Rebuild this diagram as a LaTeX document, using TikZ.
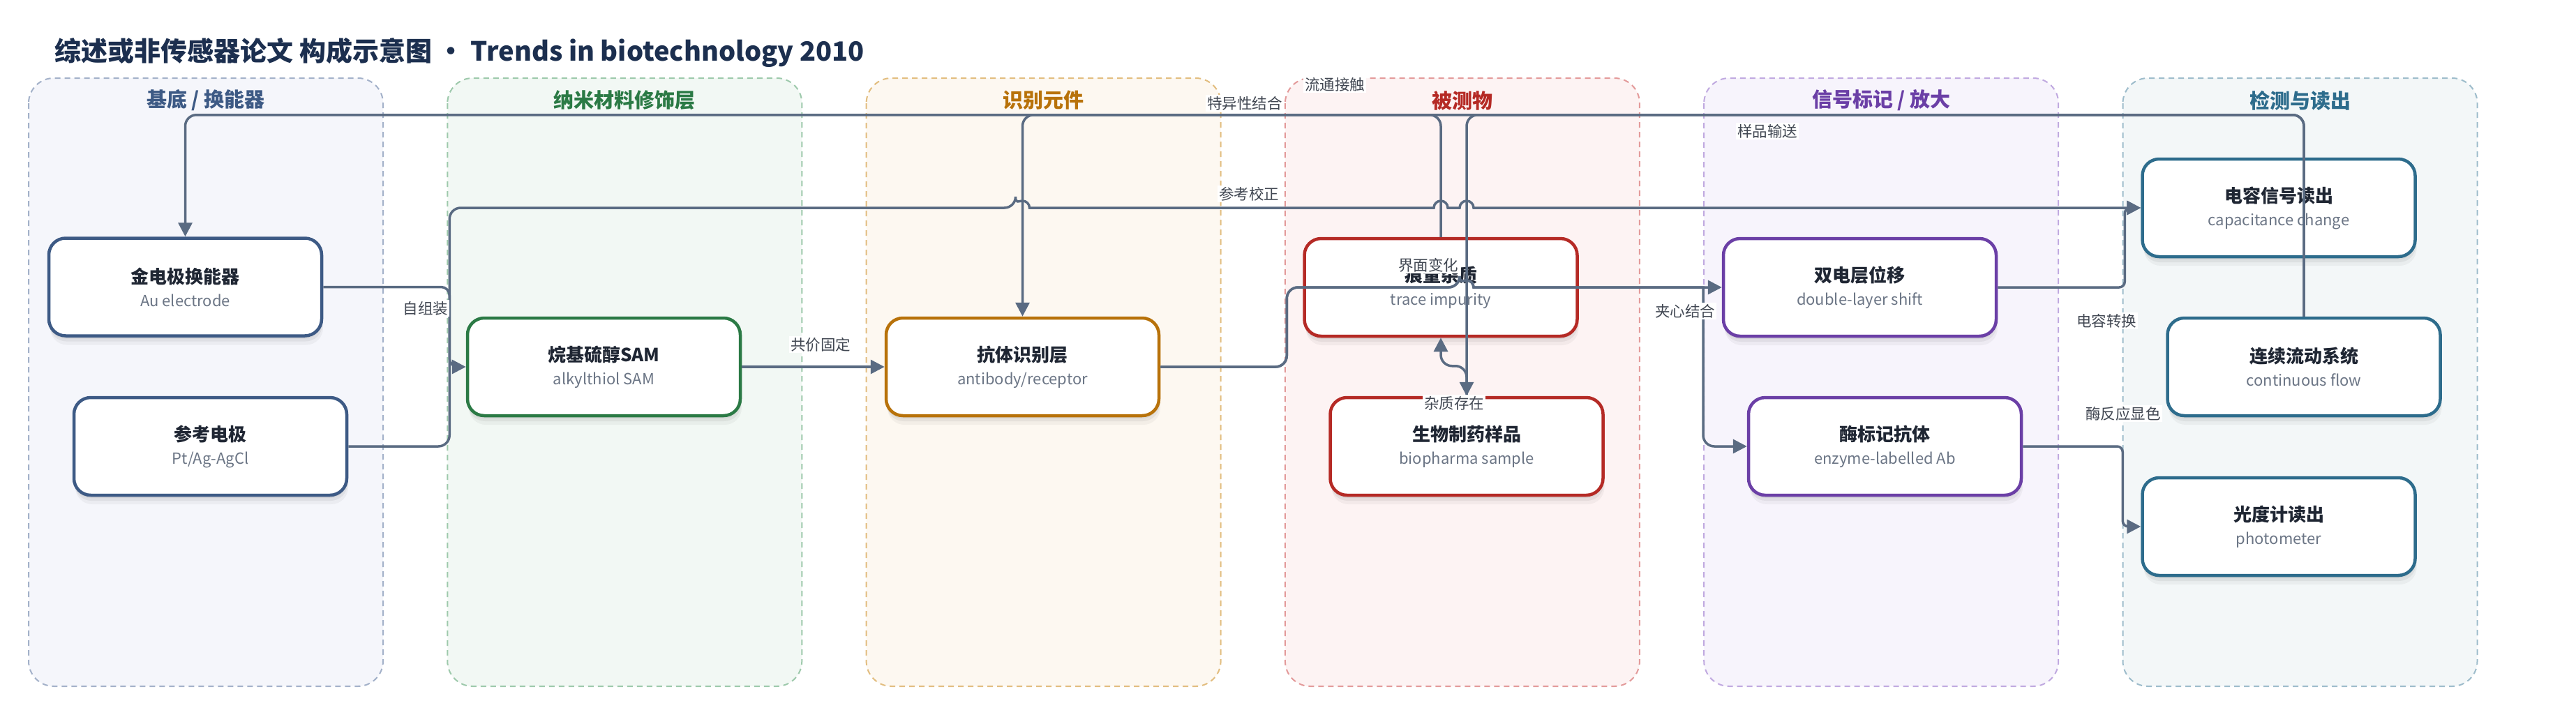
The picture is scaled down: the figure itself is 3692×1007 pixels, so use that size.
\documentclass[tikz,border=0pt]{standalone}
\usepackage{fontspec}
\setmainfont{Noto Sans CJK SC}
\usetikzlibrary{arrows.meta,shadows}
\definecolor{ink}{HTML}{1F2633}
\definecolor{mute}{HTML}{6B7585}
\definecolor{wire}{HTML}{5A6B82}
\definecolor{head}{HTML}{1C2F4F}
\definecolor{c1line}{HTML}{A3B1C9}\definecolor{c1fill}{HTML}{F5F6FB}\definecolor{c1text}{HTML}{3D5A85}
\definecolor{c2line}{HTML}{9DC9AB}\definecolor{c2fill}{HTML}{F2F8F4}\definecolor{c2text}{HTML}{2B7A45}
\definecolor{c3line}{HTML}{E2BD7F}\definecolor{c3fill}{HTML}{FDF8F1}\definecolor{c3text}{HTML}{B8720A}
\definecolor{c4line}{HTML}{E39A9A}\definecolor{c4fill}{HTML}{FDF3F3}\definecolor{c4text}{HTML}{B52A25}
\definecolor{c5line}{HTML}{C0A9E0}\definecolor{c5fill}{HTML}{F7F4FC}\definecolor{c5text}{HTML}{6B3FA6}
\definecolor{c6line}{HTML}{9DBCCB}\definecolor{c6fill}{HTML}{F3F7F8}\definecolor{c6text}{HTML}{2D6C8C}
\newcommand{\subline}[1]{{\fontsize{22}{22}\selectfont\mdseries\color{mute}#1}}
\begin{document}
\begin{tikzpicture}[x=1pt,y=-1pt,
      lane/.style={draw=#1line, fill=#1fill, line width=2pt, dash pattern=on 8pt off 6pt, rounded corners=36pt},
      lanehead/.style={font=\fontsize{29}{31}\selectfont\bfseries},
      box/.style={draw=#1, line width=4.5pt, fill=white, rounded corners=24pt,
         minimum width=391pt, minimum height=140pt, inner sep=0pt, align=center,
         text=ink, font=\fontsize{26}{33}\selectfont\bfseries,
         general shadow={fill=black, opacity=.05, shadow yshift=-4pt},
         general shadow={fill=black, opacity=.05, shadow yshift=-8pt, shadow xshift=1pt},
         general shadow={fill=black, opacity=.04, shadow yshift=-13pt, shadow xshift=2pt}},
      wire/.style={draw=wire, line width=3.5pt, rounded corners=16pt, -{Triangle[length=20pt,width=20pt]}},
      tag/.style={fill=white, text=ink!85, font=\fontsize{21.5}{24}\selectfont, inner sep=2pt}]
   \fill[white] (0,0) rectangle (3692,1007);
   \useasboundingbox (0,0) rectangle (3692,1007);
   \node[anchor=west, text=head, font=\fontsize{38}{40}\selectfont\bfseries] (title) at (75,75)
      {综述或非传感器论文 构成示意图 · Trends in biotechnology 2010};
   \foreach \i/\name in {1/{基底 / 换能器}, 2/纳米材料修饰层, 3/识别元件, 4/被测物, 5/{信号标记 / 放大}, 6/检测与读出} {
      \draw[lane=c\i] ({41+600.3*(\i-1)},112) rectangle ++(508,872);
      \node[lanehead, text=c\i text] (lane\i) at ({295+600.3*(\i-1)},144) {\name};
   }
   \node[box=c1text] (au) at (265.5,411.5) {金电极换能器\\\subline{Au electrode}};
   \node[box=c1text] (ref) at (301.5,640) {参考电极\\\subline{Pt/Ag-AgCl}};
   \node[box=c2text] (sam) at (865.5,526) {烷基硫醇SAM\\\subline{alkylthiol SAM}};
   \node[box=c3text] (ab) at (1465.5,526) {抗体识别层\\\subline{antibody/receptor}};
   \node[box=c4text] (trace) at (2065,412) {痕量杂质\\\subline{trace impurity}};
   \node[box=c4text] (bio) at (2102,640) {生物制药样品\\\subline{biopharma sample}};
   \node[box=c5text] (dls) at (2665.5,412) {双电层位移\\\subline{double-layer shift}};
   \node[box=c5text] (enz) at (2701.5,640) {酶标记抗体\\\subline{enzyme-labelled Ab}};
   \node[box=c6text] (cap) at (3266,298) {电容信号读出\\\subline{capacitance change}};
   \node[box=c6text] (flow) at (3302,526) {连续流动系统\\\subline{continuous flow}};
   \node[box=c6text] (photo) at (3266,755) {光度计读出\\\subline{photometer}};
   \draw[wire, rounded corners=12pt] (au.east) -- ++(181,0) |- (sam.west);
   \draw[wire] (ref.east) -- ++(145,0) -- ++(0,-342) -- (1455.5,298) [sharp corners]
      arc[start angle=180, end angle=0, radius=10pt] -- (2055,298)
      arc[start angle=180, end angle=0, radius=10pt] -- (2092,298)
      arc[start angle=180, end angle=0, radius=10pt] -- (cap.west);
   \draw[wire] (sam.east) -- (ab.west);
   \draw[wire] (ab.east) -- ++(181,0) |- (2092,412) [sharp corners]
      arc[start angle=180, end angle=0, radius=10pt] -- (dls.west);
   \draw[wire] (ab.east) -- ++(181,0) |- (2092,412) [sharp corners]
      arc[start angle=180, end angle=0, radius=10pt] -- (2441,412) [rounded corners=16pt] |- (enz.west);
   \draw[wire, rounded corners=8pt] (dls.east) -- ++(182,0) |- (cap.west);
   \draw[wire, rounded corners=8pt] (enz.east) -- ++(143,0) |- (photo.west);
   \draw[wire] (flow.north) -- ++(0,-289) -| (au.north);
   \draw[wire] (flow.north) -- ++(0,-289) -| (bio.north);
   \draw[wire] (trace.north) -- ++(0,-175) -| (ab.north);
   \draw[wire] (bio.north) -- ++(0,-43) -| (trace.south);
   \node[tag] (t1) at (610,442) {自组装};
   \node[tag] (t2) at (1176,494) {共价固定};
   \node[tag] (t3) at (1790,278) {参考校正};
   \node[tag] (t4) at (1784,148) {特异性结合};
   \node[tag] (t5) at (1913,121) {流通接触};
   \node[tag] (t6) at (2533,188) {样品输送};
   \node[tag] (t7) at (2047,380) {界面变化};
   \node[tag] (t8) at (2084,578) {杂质存在};
   \node[tag] (t9) at (2415,446) {夹心结合};
   \node[tag] (t10) at (3019,460) {电容转换};
   \node[tag] (t11) at (3043,593) {酶反应显色};
\end{tikzpicture}
\end{document}
